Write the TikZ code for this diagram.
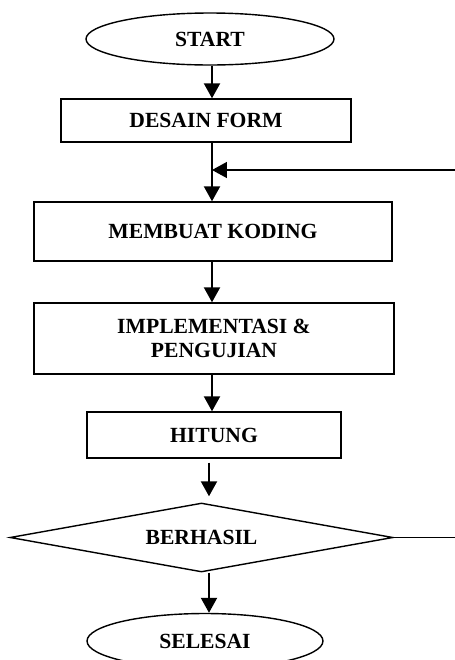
\documentclass[tikz,border=0pt]{standalone}
\usepackage{fontspec}
\setmainfont{Liberation Serif}
\usepackage{tikz}
\usetikzlibrary{arrows.meta,shapes.geometric}
\tikzstyle{txt}=[font=\fontsize{12.3}{14}\selectfont\bfseries,align=center,inner sep=0pt]
\tikzstyle{terminal}=[txt,draw,ellipse,line width=0.8pt]
\tikzstyle{process}=[txt,draw,rectangle,line width=0.8pt]
\tikzstyle{decision}=[txt,draw,diamond,line width=0.8pt]
\tikzstyle{edge} = [draw,line width=1.2pt,-{Triangle[length=0.3cm,width=0.32cm]}]
\tikzstyle{line} = [draw,line width=0.9pt]

\begin{document}
\begin{tikzpicture}[x=0.02cm,y=-0.02cm]
        \useasboundingbox (0,0) rectangle (454,660);
        \node[terminal,minimum width=4.96cm,minimum height=1.04cm] (start) at (210,39) {START};
        \node[process,minimum width=5.8cm,minimum height=0.86cm] (desain) at (206,120.5) {DESAIN FORM};
        \node[process,minimum width=7.16cm,minimum height=1.18cm] (koding) at (213,231.5) {MEMBUAT KODING};
        \node[process,minimum width=7.2cm,minimum height=1.42cm] (uji) at (214,338.5) {IMPLEMENTASI \&\\PENGUJIAN};
        \node[process,minimum width=5.08cm,minimum height=0.92cm] (hitung) at (214,435) {HITUNG};
        \node[decision,minimum width=7.66cm,minimum height=1.38cm,aspect=5.5] (berhasil) at (201.5,537.5) {BERHASIL};
        \node[terminal,minimum width=4.72cm,minimum height=1.1cm] (selesai) at (205,641) {SELESAI};
        \coordinate (up) at (212,0);
        \coordinate (down) at (209,0);
        \coordinate (loop) at (212,170);
        \draw[edge] (start.south -| up) to (desain.north -| up);
        \draw[line] (desain.south -| up) to (loop);
        \draw[edge] (loop) to (koding.north -| up);
        \draw[edge] (koding.south -| up) to (uji.north -| up);
        \draw[edge] (uji.south -| up) to (hitung.north -| up);
        \draw[edge] ([yshift=-0.08cm]hitung.south -| down) to ([yshift=0.12cm]berhasil.north -| down);
        \draw[edge] (berhasil.south -| down) to (selesai.north -| down);
        \draw[edge,line width=0.9pt] (berhasil.east) -- ++(80,0) |- (loop);
      \end{tikzpicture}
\end{document}
